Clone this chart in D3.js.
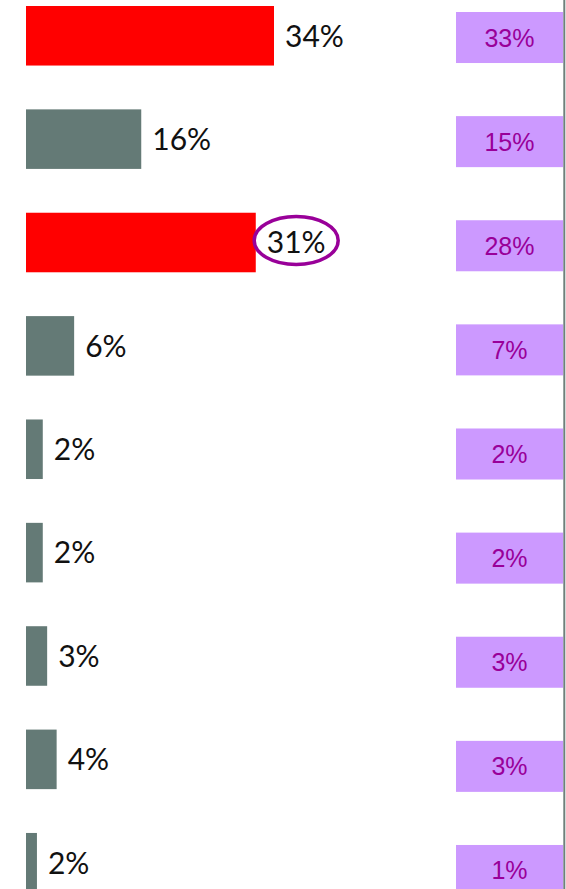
<!DOCTYPE html>
<html>
<head>
<meta charset="utf-8">
<script src="https://cdn.jsdelivr.net/npm/d3@7"></script>
<style>
	html, body { margin: 0; padding: 0; background: #fff; overflow: hidden; }
</style>
</head>
<body>
<div id="graph"></div>
<script>
"use strict";
// rows, top to bottom
let categories = ["r1", "r2", "r3", "r4", "r5", "r6", "r7", "r8", "r9"];
let barValues = [34, 15.8, 31.5, 6.6, 2.3, 2.3, 2.9, 4.2, 1.5];
let barLabels = ["34%", "16%", "31%", "6%", "2%", "2%", "3%", "4%", "2%"];
let highlighted = ["r1", "r3"];
let circled = "r3";
let compareLabels = ["33%", "15%", "28%", "7%", "2%", "2%", "3%", "3%", "1%"];

let width = 566;
let height = 889;

let svg = d3.select("#graph")
			.append("svg")
			.attr("width", width)
			.attr("height", height);

let x = d3.scaleLinear()
	.domain([0, 34])
	.range([26, 274]);

let y = d3.scaleBand()
	.domain(categories)
	.range([6, 892.5])
	.paddingInner(0.424)
	.paddingOuter(0);

// the purple column sits on a slightly different grid
let y2 = d3.scaleBand()
	.domain(categories)
	.range([12, 896])
	.paddingInner(0.51)
	.paddingOuter(0);

svg.append("g")
	.selectAll("rect")
	.data(categories)
	.enter().append("rect")
	.attr("x", x(0))
	.attr("y", function(d) { return y(d); })
	.attr("width", function(d, i) { return x(barValues[i]) - x(0); })
	.attr("height", y.bandwidth())
	.style("fill", function(d)
	{
		return highlighted.indexOf(d) >= 0 ? "#ff0000" : "#647a76";
	});

let labels = svg.append("g")
	.selectAll("text")
	.data(categories)
	.enter().append("text")
	.attr("x", function(d, i) { return x(barValues[i]) + 11; })
	.attr("y", function(d) { return y(d) + y.bandwidth() / 2; })
	.attr("dy", "0.36em")
	.style("font-family", "Lato, 'Open Sans', sans-serif")
	.style("font-size", "30px")
	.style("fill", "#111111")
	.text(function(d, i) { return barLabels[i]; });

// ring round the circled label
labels.filter(function(d) { return d == circled; })
	.each(function(d)
	{
		let box = this.getBBox();
		svg.append("ellipse")
			.attr("cx", box.x + box.width / 2)
			.attr("cy", y(d) + y.bandwidth() / 2 - 2)
			.attr("rx", 42)
			.attr("ry", 24)
			.attr("fill", "none")
			.attr("stroke", "#990099")
			.attr("stroke-width", 3.5);
	});

let right = svg.append("g");

right.selectAll("rect")
	.data(categories)
	.enter().append("rect")
	.attr("x", 456)
	.attr("y", function(d) { return y2(d); })
	.attr("width", 107)
	.attr("height", y2.bandwidth())
	.style("fill", "#cc99ff");

right.selectAll("text")
	.data(categories)
	.enter().append("text")
	.attr("x", 509.5)
	.attr("y", function(d) { return y2(d) + y2.bandwidth() / 2; })
	.attr("dy", "0.36em")
	.attr("text-anchor", "middle")
	.style("font-family", "'Liberation Sans', Arial, sans-serif")
	.style("font-size", "25px")
	.style("fill", "#990099")
	.text(function(d, i) { return compareLabels[i]; });

svg.append("line")
	.attr("x1", 564.3)
	.attr("x2", 564.3)
	.attr("y1", 0)
	.attr("y2", height)
	.attr("stroke", "#6f807c")
	.attr("stroke-width", 2);
</script>
</body>
</html>
